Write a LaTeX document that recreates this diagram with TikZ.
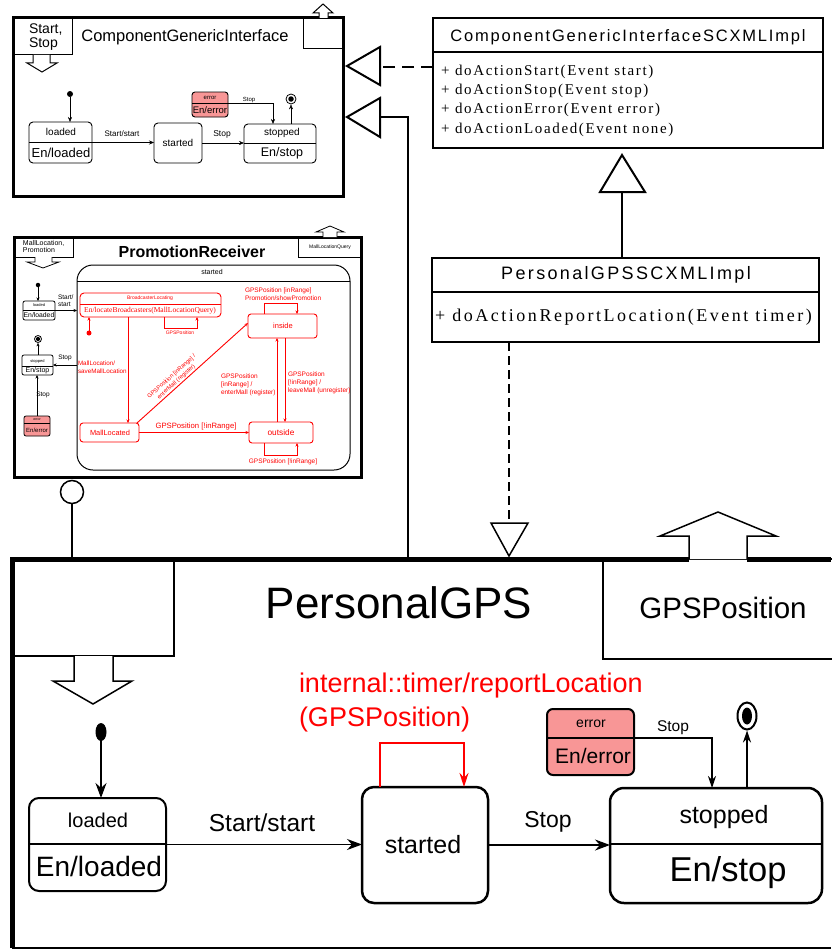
\documentclass[tikz,border=0pt]{standalone}
\usepackage{fontspec}
\setmainfont{Liberation Sans}
\newfontfamily\classsans[LetterSpace=11]{Liberation Sans}
\newfontfamily\classsanswide[LetterSpace=13]{Liberation Sans}
\newfontfamily\classserif[LetterSpace=11]{Liberation Serif}
\newfontfamily\classserifwide[LetterSpace=14]{Liberation Serif}
\newfontfamily\plainserif{Liberation Serif}
\usetikzlibrary{arrows.meta,calc,shapes.geometric}
\definecolor{errpink}{RGB}{248,150,150}
\definecolor{umlred}{RGB}{255,0,0}
\newcommand{\pxf}[2]{\fontsize{#1}{#2}\selectfont}

\begin{document}
\begin{tikzpicture}[x=1pt,y=-1pt,
  box/.style={draw, inner sep=0pt, outer sep=0pt, anchor=north west},
  lbl/.style={inner sep=0pt, outer sep=0pt, font=\pxf{#1}{#1}},
  mlbl/.style 2 args={inner sep=0pt, outer sep=0pt, anchor=north west, align=left, font=\pxf{#1}{#2}},
  thickframe/.style={draw, line width=3pt},
  portshape/.style={draw, line width=1pt, fill=white},
  tinyst/.style={box, rounded corners=2pt, line width=0.8pt},
  smallst/.style={box, rounded corners=4pt, line width=0.9pt},
  redst/.style={box, draw=umlred, rounded corners=3pt, line width=0.9pt},
  initdot/.style={circle, fill=black, inner sep=0pt, outer sep=0pt, minimum size=#1},
  tipS/.style={-{Stealth[length=3.5pt,width=3pt]}},
  tipM/.style={-{Stealth[length=5pt,width=4pt]}},
  tipL/.style={-{Stealth[length=15pt,width=11pt]}},
  hollowtri/.style={draw, line width=2pt, fill=white, line join=miter},
]
\useasboundingbox (0,0) rectangle (831,950);
\fill[white] (0,0) rectangle (831,950);

%% ---------------- ComponentGenericInterface ----------------
\draw[thickframe] (13,18) rectangle (343,196);
\node[box, line width=1pt, minimum width=59, minimum height=37] (cgiPortIn) at (13,18) {};
\node[mlbl={14}{14}] (cgiPortInTxt) at (29,24) {Start,\\Stop};
\draw[portshape] (33,55) -- (33,63) -- (27,63) -- (42,72) -- (57,63) -- (50,63) -- (50,55);
\node[lbl=16.5] (cgiTitle) at (185,37) {ComponentGenericInterface};
\node[box, line width=1pt, minimum width=40, minimum height=31] (cgiPortOut) at (303,18) {};
\draw[portshape] (319,18) -- (319,13) -- (313,13) -- (323,4) -- (333,13) -- (328,13) -- (328,18);

\node[smallst, minimum width=63, minimum height=41] (cgiLoaded) at (29,122) {};
\draw[line width=0.9pt] (29,142) -- (92,142);
\node[lbl=10] (cgiLoadedName) at (61,132) {loaded};
\node[lbl=13] (cgiLoadedEn) at (61,153) {En/loaded};
\node[initdot=6] (cgiInit) at (70,94) {};
\draw[tipM] (cgiInit) -- (cgiInit |- cgiLoaded.north);

\node[smallst, minimum width=48, minimum height=40] (cgiStarted) at (154,123) {};
\node[lbl=10] (cgiStartedName) at (178,143) {started};
\draw[tipM] (cgiLoaded.east) -- (cgiLoaded.east -| cgiStarted.west);
\node[lbl=8] (cgiStartLbl) at (122,134) {Start/start};

\node[smallst, minimum width=72, minimum height=39] (cgiStopped) at (244,124) {};
\draw[line width=0.9pt] (244,143) -- (316,143);
\node[lbl=10] (cgiStoppedName) at (282,133) {stopped};
\node[lbl=12.5] (cgiStoppedEn) at (282,153) {En/stop};
\draw[tipM] (cgiStarted.east) -- (cgiStarted.east -| cgiStopped.west);
\node[lbl=8.5] (cgiStopLbl) at (222,134) {Stop};

\node[smallst, fill=errpink, rounded corners=3pt, minimum width=36, minimum height=25] (cgiError) at (192,92) {};
\draw[line width=0.9pt] (192,103) -- (228,103);
\node[lbl=6] (cgiErrorName) at (210,97.5) {error};
\node[lbl=9.5] (cgiErrorEn) at (210,110) {En/error};
\draw[tipM] ($(cgiError.north east)+(0,11)$) -| ($(cgiStopped.north west)+(29,0)$);
\node[lbl=6] (cgiErrStopLbl) at (249,100) {Stop};

\node[circle, draw, line width=0.8pt, minimum size=10, inner sep=0pt] (cgiFinal) at (291,99) {};
\node[initdot=5.5] (cgiFinalDot) at (291,99) {};
\draw[tipM] (cgiFinal |- cgiStopped.north) -- (cgiFinal.south);

%% ---------------- ComponentGenericInterfaceSCXMLImpl ----------------
\node[box, line width=1.5pt, minimum width=390, minimum height=130] (cgiImpl) at (433,18) {};
\draw[line width=1.5pt] (433,52) -- (823,52);
\node[inner sep=0pt, font=\classsans\pxf{16.5}{16.5}] (cgiImplTitle) at (628,37) {ComponentGenericInterfaceSCXMLImpl};
\node[inner sep=0pt, anchor=west, font=\classserif\pxf{15}{15}] (opStart) at (441,72) {+ doActionStart(Event start)};
\node[inner sep=0pt, anchor=west, font=\classserif\pxf{15}{15}] (opStop) at (441,91) {+ doActionStop(Event stop)};
\node[inner sep=0pt, anchor=west, font=\classserif\pxf{15}{15}] (opError) at (441,110) {+ doActionError(Event error)};
\node[inner sep=0pt, anchor=west, font=\classserif\pxf{15}{15}] (opLoaded) at (441,130) {+ doActionLoaded(Event none)};

%% realization / generalization arrows
\draw[hollowtri] (347,66) -- (380,47) -- (380,85) -- cycle;
\coordinate (realBaseA) at (380,67);
\draw[line width=2pt, dash pattern=on 12pt off 7pt] ($(cgiImpl.north west)+(0,49)$) -- (realBaseA);
\draw[hollowtri] (347,117) -- (380,98) -- (380,137) -- cycle;
\coordinate (realBaseB) at (380,117);
\coordinate (pgpsTopJoin) at (408,559);
\draw[line width=2pt] (realBaseB) -| (pgpsTopJoin);

\draw[hollowtri] (622,155) -- (645,192) -- (600,192) -- cycle;
\coordinate (genBaseC) at (622,192);

%% ---------------- PersonalGPSSCXMLImpl ----------------
\node[box, line width=1.5pt, minimum width=387, minimum height=84] (pgpsImpl) at (432,258) {};
\draw[line width=1.5pt] (432,292) -- (819,292);
\node[inner sep=0pt, font=\classsanswide\pxf{18}{18}] (pgpsImplTitle) at (626,275) {PersonalGPSSCXMLImpl};
\node[inner sep=0pt, anchor=west, font=\classserifwide\pxf{18}{18}] (opReport) at (435,317) {+ doActionReportLocation(Event timer)};
\draw[line width=2pt] (genBaseC) -- (genBaseC |- pgpsImpl.north);

\coordinate (depBase) at (509,523);
\draw[line width=1.5pt, dash pattern=on 9pt off 5pt] ($(pgpsImpl.south west)+(77,0)$) -- (depBase);
\draw[line width=1.5pt, fill=white] (491,523) -- (528,523) -- (509,556) -- cycle;

%% ---------------- PromotionReceiver ----------------
\draw[thickframe] (14,237) rectangle (361,477);
\node[box, line width=0.8pt, minimum width=59, minimum height=20] (prPortIn) at (14,237) {};
\node[mlbl={7}{7.5}] (prPortInTxt) at (23,240) {MallLocation,\\Promotion};
\draw[portshape, line width=0.8pt] (35,257) -- (35,262) -- (27,262) -- (43,268) -- (59,262) -- (52,262) -- (52,257);
\node[inner sep=0pt, font=\bfseries\pxf{16}{16}] (prTitle) at (192,252) {PromotionReceiver};
\node[box, line width=0.8pt, minimum width=63, minimum height=20] (prPortOut) at (298,237) {};
\node[lbl=5] (prPortOutTxt) at (330,247) {MallLocationQuery};
\draw[portshape, line width=0.8pt] (323,237) -- (323,232) -- (316,232) -- (330,226) -- (344,232) -- (337,232) -- (337,237);

\node[circle, draw, line width=1.5pt, minimum size=23, inner sep=0pt, fill=white] (prLolli) at (72,492) {};
\draw[line width=2pt] (prLolli.south) -- (prLolli.south |- pgpsTopJoin);

% outer states
\node[tinyst, minimum width=32, minimum height=19] (prLoaded) at (23,301) {};
\draw[line width=0.8pt] (23,310) -- (55,310);
\node[lbl=4] (prLoadedName) at (39,305.5) {loaded};
\node[lbl=6.8] (prLoadedEn) at (39,315.5) {En/loaded};
\node[initdot=4.5] (prInit) at (38,285) {};
\draw[tipS] (prInit) -- (prInit |- prLoaded.north);

\node[tinyst, minimum width=31, minimum height=20] (prStopped) at (22,355) {};
\draw[line width=0.8pt] (22,366) -- (53,366);
\node[lbl=4] (prStoppedName) at (37.5,361) {stopped};
\node[lbl=7] (prStoppedEn) at (37.5,371) {En/stop};
\node[circle, draw, line width=0.8pt, minimum size=7, inner sep=0pt] (prFinal) at (38,339) {};
\node[initdot=4.2] (prFinalDot) at (38,339) {};
\draw[tipS] (prFinal |- prStopped.north) -- (prFinal.south);

\node[tinyst, fill=errpink, minimum width=26, minimum height=20] (prError) at (24,416) {};
\draw[line width=0.8pt] (24,423) -- (50,423);
\node[lbl=3.5] (prErrorName) at (37,419.5) {error};
\node[lbl=6] (prErrorEn) at (37,430) {En/error};
\draw[tipS] (prError.north) -- (prError.north |- prStopped.south);
\node[lbl=6.5] (prErrStopLbl) at (43,395) {Stop};

% composite state
\node[box, rounded corners=16pt, line width=1pt, minimum width=273, minimum height=205] (prStarted) at (77,265) {};
\draw[line width=1pt] (77,281) -- (350,281);
\node[lbl=7] (prStartedName) at (212,272) {started};
\draw[tipS] (prLoaded.east) -- (prLoaded.east -| prStarted.west);
\node[mlbl={6.5}{7.5}] (prStartLbl) at (58,294.5) {Start/\\start};
\draw[tipS] (prStarted.west |- prStopped.east) -- (prStopped.east);
\node[lbl=6.5] (prStopLbl) at (65,358) {Stop};

% red inner states
\begin{scope}[umlred, text=umlred]
\node[redst, rounded corners=4pt, minimum width=141, minimum height=24] (prBL) at (80,293) {};
\draw[line width=0.9pt] (80,304) -- (221,304);
\node[lbl=5] (prBLName) at (150,298.5) {BroadcasterLocating};
\node[inner sep=0pt, font=\plainserif\pxf{7.5}{7.5}] (prBLEn) at (150,311) {En/locateBroadcasters(MallLocationQuery)};
\node[initdot=5, fill=umlred] (prRedInit) at (89,333) {};
\draw[tipS, line width=0.9pt] (prRedInit) -- (prRedInit |- prBL.south);
\draw[tipS, line width=0.9pt] ($(prBL.south west)+(84,0)$) -- ++(0,11) -| ($(prBL.south west)+(117,0)$);
\node[lbl=5] (prBLLoopLbl) at (180,333) {GPSPosition};

\node[redst, minimum width=59, minimum height=19] (prMall) at (80,423) {};
\node[lbl=7.4] (prMallName) at (110,433) {MallLocated};
\draw[tipS, line width=0.9pt] ($(prBL.south west)+(48,0)$) -- ($(prMall.north west)+(48,0)$);
\node[mlbl={6.3}{8}] (prMallInLbl) at (78,360.5) {MallLocation/\\saveMallLocation};

\node[redst, minimum width=69, minimum height=24] (prInside) at (248,314) {};
\node[lbl=7.5] (prInsideName) at (283,326) {inside};
\node[redst, minimum width=64, minimum height=21] (prOutside) at (249,422) {};
\node[lbl=8.3] (prOutsideName) at (281,432.5) {outside};

\draw[tipS, line width=0.9pt] ($(prInside.north west)+(16,0)$) -- ++(0,-11) -| ($(prInside.north west)+(49,0)$);
\node[mlbl={6.5}{8}] (prInsideLoopLbl) at (245,287.6) {GPSPosition [inRange]\\Promotion/showPromotion};
\draw[tipS, line width=0.9pt] ($(prOutside.south west)+(15,0)$) -- ++(0,12) -| ($(prOutside.south west)+(48,0)$);
\node[lbl=6.5] (prOutsideLoopLbl) at (283,462) {GPSPosition [!inRange]};

\draw[tipS, line width=0.9pt] ($(prOutside.north west)+(28,0)$) -- ($(prInside.south west)+(29,0)$);
\node[mlbl={6.5}{8}] (prEnterLbl) at (221,373.6) {GPSPosition\\{}[inRange] /\\enterMall (register)};
\draw[tipS, line width=0.9pt] ($(prInside.south west)+(37,0)$) -- ($(prOutside.north west)+(36,0)$);
\node[mlbl={6.5}{8}] (prLeaveLbl) at (288,371.6) {GPSPosition\\{}[!inRange] /\\leaveMall (unregister)};

\draw[tipS, line width=0.9pt] (prMall.east) -- (prMall.east -| prOutside.west);
\node[lbl=7.7] (prMallOutLbl) at (196,427) {GPSPosition [!inRange]};
\draw[tipS, line width=0.9pt] ($(prMall.north east)+(-2,0)$) -- node[sloped, above=1pt, pos=0.38, align=center, inner sep=0pt, font=\pxf{5.8}{7}] (prDiagLbl) {GPSPosition [inRange] /\\enterMall (register)} ($(prInside.west)+(0,-3)$);
\end{scope}

%% ---------------- PersonalGPS ----------------
\draw[line width=5pt] (689,559) -- (12,559) -- (12,948);
\draw[line width=5pt] (747,559) -- (831,559);
\draw[line width=2pt] (12,947.5) -- (831,947.5);

\node[box, line width=1.5pt, minimum width=162, minimum height=97] (pgpsPortIn) at (12,559) {};
\draw[line width=1.5pt, fill=white] (74,656) -- (74,681) -- (53,681) -- (93,704) -- (132,681) -- (113,681) -- (113,656);
\node[box, line width=1.5pt, minimum width=240, minimum height=100] (pgpsPortOut) at (603,559) {};
\draw[line width=1.5pt, fill=white] (689,559) -- (689,536) -- (660,536) -- (718,512) -- (776,536) -- (747,536) -- (747,559);
\node[lbl=44] (pgpsTitle) at (399,603) {PersonalGPS};
\node[lbl=29.5] (pgpsPortOutTxt) at (723,608) {GPSPosition};

\node[mlbl={27}{34}, text=umlred] (timerLbl) at (299,673) {internal::timer/reportLocation\\(GPSPosition)};

\node[box, rounded corners=10pt, line width=2pt, minimum width=137, minimum height=93] (mLoaded) at (29,798) {};
\draw[line width=2pt] (29,844) -- (166,844);
\node[lbl=20] (mLoadedName) at (98,820) {loaded};
\node[lbl=28] (mLoadedEn) at (99,866) {En/loaded};
\node[ellipse, fill=black, minimum width=11, minimum height=18, inner sep=0pt] (mInit) at (101,732) {};
\draw[line width=1.5pt, tipL] (mInit) -- (mInit |- mLoaded.north);

\node[box, rounded corners=12pt, line width=2.5pt, minimum width=126, minimum height=116] (mStarted) at (362,787) {};
\node[lbl=25] (mStartedName) at (423,845) {started};
\draw[line width=1.5pt, tipL] (mLoaded.east) -- (mLoaded.east -| mStarted.west);
\node[lbl=24.5] (mStartLbl) at (262,823) {Start/start};

\node[box, rounded corners=14pt, line width=2.5pt, minimum width=212, minimum height=115] (mStopped) at (610,788) {};
\draw[line width=2.5pt] (610,844) -- (822,844);
\node[lbl=25] (mStoppedName) at (724,817) {stopped};
\node[lbl=34.5] (mStoppedEn) at (728,873) {En/stop};
\draw[line width=1.5pt, tipL] (mStarted.east) -- (mStarted.east -| mStopped.west);
\node[lbl=23] (mStopLbl) at (548,822) {Stop};

\node[box, rounded corners=6pt, line width=2pt, fill=errpink, minimum width=87, minimum height=66] (mError) at (547,709) {};
\draw[line width=2pt] (547,738) -- (634,738);
\node[lbl=14] (mErrorName) at (591,723.5) {error};
\node[lbl=21] (mErrorEn) at (593,756) {En/error};
\draw[line width=1.2pt, -{Stealth[length=12pt,width=8pt]}] ($(mError.north east)+(0,29)$) -| ($(mStopped.north west)+(102,0)$);
\node[lbl=15.5] (mErrStopLbl) at (673,728) {Stop};

\node[ellipse, draw, line width=2pt, minimum width=19, minimum height=27, inner sep=0pt] (mFinal) at (747,716) {};
\node[ellipse, fill=black, minimum width=10, minimum height=17, inner sep=0pt] (mFinalDot) at (747,716) {};
\draw[line width=1.5pt, -{Stealth[length=12pt,width=8pt]}] ($(mStopped.north west)+(137,0)$) -- (mFinal.south);

\draw[umlred, line width=1.5pt, -{Stealth[length=14pt,width=9pt]}] ($(mStarted.north west)+(18,0)$) -- ++(0,-44) -| ($(mStarted.north west)+(102,0)$);
\end{tikzpicture}
\end{document}
